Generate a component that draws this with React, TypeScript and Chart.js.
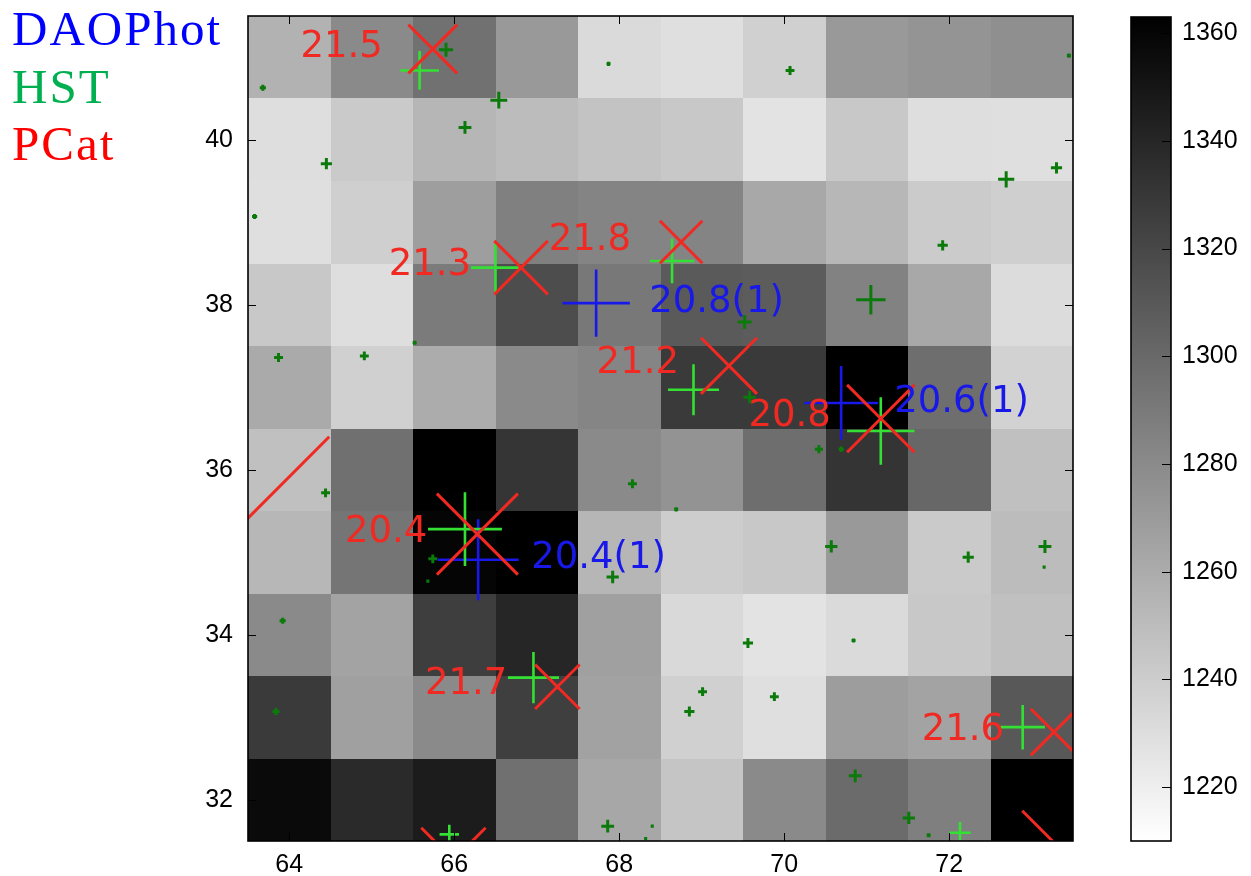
import React, { useEffect, useRef } from 'react';
import { Chart, registerables } from 'chart.js';
Chart.register(...registerables);

// ---- image grid (cell centres) ----
const xCells = [64, 65, 66, 67, 68, 69, 70, 71, 72, 73];
const yCells = [41, 40, 39, 38, 37, 36, 35, 34, 33, 32];
const rowY41 = [1256, 1280, 1295, 1271, 1232, 1229, 1238, 1271, 1274, 1277];
const rowY40 = [1230, 1242, 1254, 1250, 1246, 1243, 1227, 1243, 1230, 1229];
const rowY39 = [1229, 1239, 1268, 1286, 1284, 1284, 1262, 1253, 1241, 1239];
const rowY38 = [1243, 1230, 1289, 1317, 1291, 1309, 1308, 1285, 1262, 1231];
const rowY37 = [1261, 1238, 1260, 1280, 1283, 1328, 1328, 1363, 1297, 1237];
const rowY36 = [1248, 1296, 1363, 1331, 1280, 1275, 1297, 1332, 1301, 1248];
const rowY35 = [1253, 1293, 1360, 1363, 1254, 1240, 1243, 1271, 1242, 1250];
const rowY34 = [1280, 1265, 1326, 1340, 1267, 1233, 1227, 1232, 1243, 1248];
const rowY33 = [1328, 1267, 1280, 1325, 1266, 1238, 1229, 1269, 1265, 1310];
const rowY32 = [1357, 1338, 1346, 1296, 1263, 1245, 1280, 1299, 1287, 1363];
const imageRows = [rowY41, rowY40, rowY39, rowY38, rowY37, rowY36, rowY35, rowY34, rowY33, rowY32];

// ---- catalogues ----
const daoX = [67.72, 70.69, 66.29];
const daoY = [38.02, 36.81, 34.91];
const daoMag = [20.8, 20.6, 20.4];
const daoErr = [1, 1, 1];

const pcatX = [65.74, 66.81, 68.75, 69.33, 71.17, 66.28, 67.25, 73.27, 65.99, 73.475, 61.387];
const pcatY = [41.10, 38.45, 38.76, 37.26, 36.62, 35.22, 33.37, 32.82, 31.27, 31.276, 33.302];
const pcatMag = [21.5, 21.3, 21.8, 21.2, 20.8, 20.4, 21.7, 21.6, 20.9, 20.0, 16.4];

const hstBrightX = [65.58, 66.50, 68.64, 68.90, 71.17, 66.13, 66.96, 72.89, 65.94, 72.13];
const hstBrightY = [40.84, 38.45, 38.53, 36.97, 36.47, 35.28, 33.48, 32.88, 31.58, 31.60];
const hstBrightMag = [22.0, 21.5, 21.7, 21.4, 20.8, 20.6, 21.4, 21.7, 23.5, 23.3];

const hstFaintX = [65.90, 66.54, 66.13, 64.45, 63.68, 63.58, 67.87, 70.07, 72.69, 73.30, 71.92, 63.87, 64.91, 65.52, 64.44, 68.16, 65.74, 65.68, 67.92, 70.42, 70.69, 70.57, 72.23, 73.16, 73.15, 68.69, 63.92, 63.84, 67.86, 68.32, 68.40, 69.56, 70.84, 69.01, 68.85, 69.88, 70.86, 71.51, 71.75, 71.05, 69.52, 69.58, 73.45];
const hstFaintY = [41.09, 40.48, 40.15, 39.71, 40.63, 39.07, 40.92, 40.84, 39.52, 39.66, 38.72, 37.36, 37.38, 37.54, 35.72, 35.83, 34.92, 34.65, 34.70, 36.25, 36.25, 35.07, 34.94, 35.07, 34.82, 35.52, 34.17, 33.07, 31.68, 31.53, 31.68, 33.90, 33.93, 33.31, 33.07, 33.25, 32.29, 31.78, 31.57, 38.06, 37.79, 36.88, 41.02];
const hstFaintMag = [24.2, 23.8, 24.4, 24.7, 26.0, 26.4, 26.9, 25.2, 23.9, 24.7, 24.9, 25.2, 25.2, 26.9, 25.2, 25.2, 25.2, 27.5, 24.5, 25.4, 26.4, 24.5, 24.7, 24.4, 27.5, 26.9, 26.0, 25.7, 24.4, 27.5, 27.5, 24.9, 26.9, 25.2, 24.9, 25.2, 24.4, 24.5, 26.9, 22.6, 24.2, 24.5, 26.9];

// ---- axes ----
const xTicks = [64, 66, 68, 70, 72];
const yTicks = [32, 34, 36, 38, 40];
const cbTicks = [1220, 1240, 1260, 1280, 1300, 1320, 1340, 1360];
const cbMin = 1210;
const cbMax = 1363;
const xMin = 63.5, xMax = 73.5, yMin = 31.5, yMax = 41.5;

const legendNames = ['DAOPhot', 'HST', 'PCat'];
const legendColors = ['#0000ff', '#00b050', '#ff0000'];

const RED = '#f02a22';
const BLUE = '#1818e8';
const LIME = '#33e033';
const DKGREEN = '#0b7a0b';
const TICK_FONT = { family: '"Liberation Sans", Arial, sans-serif', size: 25 };

const markerSize = (m: number) => 81 * Math.pow(10, -0.2 * (m - 20.4));
const grayOf = (v: number) => {
  const t = Math.min(1, Math.max(0, (v - cbMin) / (cbMax - cbMin)));
  const g = Math.round(255 * (1 - t));
  return `rgb(${g},${g},${g})`;
};
const inView = (x: number, y: number) => x >= xMin && x <= xMax && y >= yMin && y <= yMax;

const heatmapPlugin = {
  id: 'heatmap',
  beforeDatasetsDraw(chart: any) {
    const { ctx, chartArea: a, scales } = chart;
    const xs = scales.x, ys = scales.y;
    ctx.save();
    ctx.beginPath();
    ctx.rect(a.left, a.top, a.right - a.left, a.bottom - a.top);
    ctx.clip();
    imageRows.forEach((row, r) => {
      row.forEach((v, c) => {
        const x0 = Math.round(xs.getPixelForValue(xCells[c] - 0.5));
        const x1 = Math.round(xs.getPixelForValue(xCells[c] + 0.5));
        const y0 = Math.round(ys.getPixelForValue(yCells[r] + 0.5));
        const y1 = Math.round(ys.getPixelForValue(yCells[r] - 0.5));
        ctx.fillStyle = grayOf(v);
        ctx.fillRect(x0, y0, x1 - x0, y1 - y0);
      });
    });
    ctx.restore();
  },
};

const labelPlugin = {
  id: 'srcLabels',
  afterDatasetsDraw(chart: any) {
    const { ctx, chartArea: a, scales } = chart;
    const xs = scales.x, ys = scales.y;
    ctx.save();
    ctx.beginPath();
    ctx.rect(a.left, a.top, a.right - a.left, a.bottom - a.top);
    ctx.clip();
    ctx.font = '37px "DejaVu Sans"';
    ctx.textBaseline = 'middle';
    ctx.fillStyle = RED;
    ctx.textAlign = 'right';
    pcatX.forEach((px, i) => {
      if (!inView(px, pcatY[i])) return;
      ctx.fillText(pcatMag[i].toFixed(1), xs.getPixelForValue(px) - 50, ys.getPixelForValue(pcatY[i]) - 2);
    });
    ctx.fillStyle = BLUE;
    ctx.textAlign = 'left';
    daoX.forEach((dx, i) => {
      if (!inView(dx, daoY[i])) return;
      ctx.fillText(`${daoMag[i].toFixed(1)}(${daoErr[i]})`, xs.getPixelForValue(dx) + 53, ys.getPixelForValue(daoY[i]) - 1);
    });
    ctx.restore();
  },
};

const framePlugin = {
  id: 'frame',
  afterDatasetsDraw(chart: any) {
    const { ctx, chartArea: a, scales } = chart;
    const xs = scales.x, ys = scales.y;
    ctx.save();
    ctx.strokeStyle = '#000';
    ctx.lineWidth = 1;
    ctx.beginPath();
    xTicks.forEach((t) => {
      const p = Math.round(xs.getPixelForValue(t)) + 0.5;
      ctx.moveTo(p, a.bottom); ctx.lineTo(p, a.bottom - 8);
      ctx.moveTo(p, a.top); ctx.lineTo(p, a.top + 8);
    });
    yTicks.forEach((t) => {
      const p = Math.round(ys.getPixelForValue(t)) + 0.5;
      ctx.moveTo(a.left, p); ctx.lineTo(a.left + 8, p);
      ctx.moveTo(a.right, p); ctx.lineTo(a.right - 8, p);
    });
    ctx.stroke();
    ctx.lineWidth = 1.6;
    ctx.strokeRect(a.left, a.top, a.right - a.left, a.bottom - a.top);
    ctx.restore();
  },
};

const colorbarPlugin = {
  id: 'colorbar',
  beforeDatasetsDraw(chart: any) {
    const { ctx, chartArea: a, scales } = chart;
    const ys = scales.y;
    const yTop = ys.getPixelForValue(cbMax);
    const yBot = ys.getPixelForValue(cbMin);
    const g = ctx.createLinearGradient(0, yTop, 0, yBot);
    g.addColorStop(0, grayOf(cbMax));
    g.addColorStop(1, grayOf(cbMin));
    ctx.save();
    ctx.fillStyle = g;
    ctx.fillRect(a.left, yTop, a.right - a.left, yBot - yTop);
    ctx.strokeStyle = '#000';
    ctx.lineWidth = 1;
    ctx.beginPath();
    cbTicks.forEach((t) => {
      const p = Math.round(ys.getPixelForValue(t)) + 0.5;
      ctx.moveTo(a.right, p); ctx.lineTo(a.right - 9, p);
    });
    ctx.stroke();
    ctx.lineWidth = 1.6;
    ctx.strokeRect(a.left, yTop, a.right - a.left, yBot - yTop);
    ctx.restore();
  },
};

const zeroPad = (s: any) => {
  s.paddingTop = 0; s.paddingBottom = 0; s.paddingLeft = 0; s.paddingRight = 0;
};

const pts = (xs: number[], ys: number[]) => xs.map((v, i) => ({ x: v, y: ys[i] }));

export default function App() {
  const mainRef = useRef<HTMLCanvasElement>(null);
  const cbRef = useRef<HTMLCanvasElement>(null);

  useEffect(() => {
    const main = new Chart(mainRef.current as HTMLCanvasElement, {
      type: 'scatter',
      data: {
        datasets: [
          {
            label: 'PCat',
            data: pts(pcatX, pcatY),
            pointStyle: 'crossRot',
            pointRadius: pcatMag.map((m) => markerSize(m) / Math.SQRT2),
            pointBorderColor: RED,
            pointBackgroundColor: RED,
            pointBorderWidth: 3,
            borderColor: RED,
            showLine: false,
            clip: 0,
            order: 0,
          } as any,
          {
            label: 'HST bright',
            data: pts(hstBrightX, hstBrightY),
            pointStyle: 'cross',
            pointRadius: hstBrightMag.map((m) => markerSize(m) / 2),
            pointBorderColor: LIME,
            pointBackgroundColor: LIME,
            pointBorderWidth: 2.6,
            borderColor: LIME,
            showLine: false,
            clip: 0,
            order: 1,
          } as any,
          {
            label: 'HST faint',
            data: pts(hstFaintX, hstFaintY),
            pointStyle: 'cross',
            pointRadius: hstFaintMag.map((m) => markerSize(m) / 2),
            pointBorderColor: DKGREEN,
            pointBackgroundColor: DKGREEN,
            pointBorderWidth: 3,
            borderColor: DKGREEN,
            showLine: false,
            clip: 0,
            order: 2,
          } as any,
          {
            label: 'DAOPhot',
            data: pts(daoX, daoY),
            pointStyle: 'cross',
            pointRadius: daoMag.map((m) => markerSize(m) / 2),
            pointBorderColor: BLUE,
            pointBackgroundColor: BLUE,
            pointBorderWidth: 2.6,
            borderColor: BLUE,
            showLine: false,
            clip: 0,
            order: 3,
          } as any,
        ],
      },
      options: {
        responsive: false,
        maintainAspectRatio: false,
        animation: false,
        devicePixelRatio: 1,
        events: [],
        layout: { autoPadding: false, padding: { top: 16, right: 27, left: 0, bottom: 0 } },
        plugins: { legend: { display: false }, tooltip: { enabled: false } },
        scales: {
          x: {
            type: 'linear',
            min: xMin,
            max: xMax,
            grid: { display: false, drawTicks: false },
            border: { display: false },
            ticks: { font: TICK_FONT, color: '#000', padding: 9, autoSkip: false, maxRotation: 0, callback: (v: any) => String(v) },
            afterBuildTicks: (s: any) => { s.ticks = xTicks.map((v) => ({ value: v })); },
            afterFit: (s: any) => { s.height = 35; zeroPad(s); },
          },
          y: {
            type: 'linear',
            min: yMin,
            max: yMax,
            grid: { display: false, drawTicks: false },
            border: { display: false },
            ticks: { font: TICK_FONT, color: '#000', padding: 15, autoSkip: false, callback: (v: any) => String(v) },
            afterBuildTicks: (s: any) => { s.ticks = yTicks.map((v) => ({ value: v })); },
            afterFit: (s: any) => { s.width = 248; zeroPad(s); },
          },
        },
      } as any,
      plugins: [heatmapPlugin, labelPlugin, framePlugin],
    });

    const cb = new Chart(cbRef.current as HTMLCanvasElement, {
      type: 'scatter',
      data: { datasets: [{ data: [] }] },
      options: {
        responsive: false,
        maintainAspectRatio: false,
        animation: false,
        devicePixelRatio: 1,
        events: [],
        layout: { autoPadding: false, padding: { top: 17, right: 0, left: 31, bottom: 35 } },
        plugins: { legend: { display: false }, tooltip: { enabled: false } },
        scales: {
          x: { type: 'linear', display: false, min: 0, max: 1 },
          y: {
            type: 'linear',
            position: 'right',
            min: cbMin,
            max: cbMax,
            grid: { display: false, drawTicks: false },
            border: { display: false },
            ticks: { font: TICK_FONT, color: '#000', padding: 11, autoSkip: false, callback: (v: any) => String(v) },
            afterBuildTicks: (s: any) => { s.ticks = cbTicks.map((v) => ({ value: v })); },
            afterFit: (s: any) => { s.width = 80; zeroPad(s); },
          },
        },
      } as any,
      plugins: [colorbarPlugin],
    });

    return () => {
      main.destroy();
      cb.destroy();
    };
  }, []);

  return (
    <div style={{ position: 'absolute', left: 0, top: 0, width: 1251, height: 876, background: '#fff', overflow: 'hidden' }}>
      <canvas ref={mainRef} width={1100} height={876} style={{ position: 'absolute', left: 0, top: 0, display: 'block' }} />
      <canvas ref={cbRef} width={151} height={876} style={{ position: 'absolute', left: 1100, top: 0, display: 'block' }} />
      {legendNames.map((name, i) => (
        <div
          key={name}
          style={{
            position: 'absolute',
            left: 12,
            top: 1 + i * 57.5,
            fontFamily: '"Liberation Serif", "Times New Roman", serif',
            fontSize: 49,
            lineHeight: '56px',
            letterSpacing: 2,
            color: legendColors[i],
            whiteSpace: 'nowrap',
          }}
        >
          {name}
        </div>
      ))}
    </div>
  );
}
